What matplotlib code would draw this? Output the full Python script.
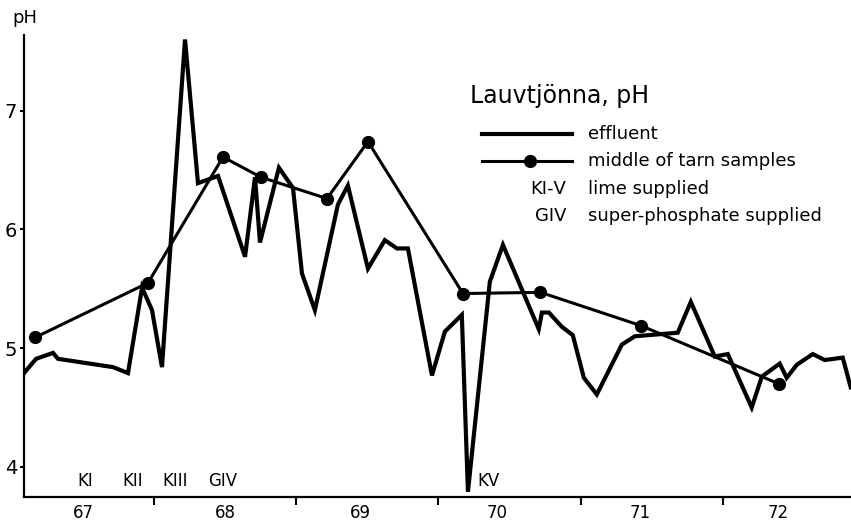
import matplotlib
matplotlib.use("Agg")
import matplotlib.pyplot as plt
from matplotlib.lines import Line2D

plt.rcParams["font.family"] = ["DejaVu Sans"]

# effluent pH (time in fractional years, 19xx)
effluent_t = [67.086, 67.171, 67.290, 67.325, 67.712, 67.817, 67.916, 67.986,
              68.056, 68.218, 68.309, 68.450, 68.640, 68.710, 68.745, 68.878,
              68.977, 69.040, 69.131, 69.293, 69.363, 69.504, 69.623, 69.708,
              69.785, 69.954, 70.045, 70.164, 70.207, 70.361, 70.453, 70.705,
              70.727, 70.776, 70.867, 70.944, 71.022, 71.113, 71.289, 71.380,
              71.682, 71.774, 71.942, 72.034, 72.202, 72.273, 72.399, 72.448,
              72.519, 72.631, 72.715, 72.842, 72.898]
effluent_ph = [4.79, 4.91, 4.96, 4.91, 4.84, 4.79, 5.51, 5.32,
               4.84, 7.60, 6.39, 6.45, 5.77, 6.44, 5.89, 6.52,
               6.35, 5.63, 5.32, 6.21, 6.37, 5.67, 5.91, 5.84,
               5.84, 4.77, 5.14, 5.28, 3.79, 5.56, 5.87, 5.16,
               5.30, 5.30, 5.18, 5.11, 4.75, 4.61, 5.03, 5.10,
               5.13, 5.39, 4.93, 4.95, 4.50, 4.76, 4.87, 4.75,
               4.86, 4.95, 4.90, 4.92, 4.67]

# middle of tarn samples
tarn_t = [67.164, 67.958, 68.485, 68.752, 69.216, 69.504, 70.172, 70.717, 71.422, 72.392]
tarn_ph = [5.09, 5.55, 6.61, 6.44, 6.26, 6.74, 5.46, 5.47, 5.19, 4.70]

# year labels sit in the middle of each year, ticks at the year boundaries
year_ticks = [68, 69, 70, 71, 72]
year_label_pos = [67.5, 68.5, 69.45, 70.41, 71.42, 72.39]
year_labels = ["67", "68", "69", "70", "71", "72"]
ph_ticks = [4, 5, 6, 7]

# lime / super-phosphate events
event_t = [67.52, 67.85, 68.15, 68.48, 70.35]
event_labels = ["KI", "KII", "KIII", "GIⅤ", "KⅤ"]

W, H = 851, 523
fig = plt.figure(figsize=(W / 100, H / 100), dpi=100)
ax = fig.add_axes([24 / W, 1 - 497 / H, 1 - 24 / W, (497 - 35) / H])

ax.plot(effluent_t, effluent_ph, color="black", lw=3.0, solid_joinstyle="miter")
ax.plot(tarn_t, tarn_ph, color="black", lw=2.2, marker="o", ms=8.5)

ax.set_xlim(67.086, 72.9)
ax.set_ylim(3.746, 7.638)

for s in ["top", "right"]:
    ax.spines[s].set_visible(False)
for s in ["left", "bottom"]:
    ax.spines[s].set_linewidth(1.6)

ax.set_xticks(year_ticks)
ax.set_xticklabels([])
ax.set_xticks(year_label_pos, minor=True)
ax.set_xticklabels(year_labels, minor=True)
ax.tick_params(axis="x", which="major", direction="out", length=6, width=1.5)
ax.tick_params(axis="x", which="minor", length=0, pad=5, labelsize=12)
ax.set_yticks(ph_ticks)
ax.set_yticklabels([str(v) for v in ph_ticks])
ax.tick_params(axis="y", direction="out", length=3, width=1.5, pad=2, labelsize=14)

for t, lab in zip(event_t, event_labels):
    ax.text(t, 3.88, lab, ha="center", va="center", fontsize=12)

fig.text(12 / W, 1 - 18 / H, "pH", ha="left", va="center", fontsize=13)

# legend block drawn by hand
fig.text(470 / W, 1 - 96 / H, "Lauvtjönna, pH", ha="left", va="center", fontsize=17)
fig.add_artist(Line2D([482 / W, 572 / W], [1 - 134 / H, 1 - 134 / H],
                      transform=fig.transFigure, color="black", lw=3.0))
fig.add_artist(Line2D([482 / W, 572 / W], [1 - 161 / H, 1 - 161 / H],
                      transform=fig.transFigure, color="black", lw=2.2))
fig.add_artist(Line2D([530 / W], [1 - 161 / H], transform=fig.transFigure,
                      color="black", marker="o", ms=8.5))
fig.text(588 / W, 1 - 134 / H, "effluent", ha="left", va="center", fontsize=13)
fig.text(588 / W, 1 - 161 / H, "middle of tarn samples", ha="left", va="center", fontsize=13)
fig.text(566 / W, 1 - 189 / H, "KI-Ⅴ", ha="right", va="center", fontsize=13)
fig.text(588 / W, 1 - 189 / H, "lime supplied", ha="left", va="center", fontsize=13)
fig.text(566 / W, 1 - 216 / H, "GIⅤ", ha="right", va="center", fontsize=13)
fig.text(588 / W, 1 - 216 / H, "super-phosphate supplied", ha="left", va="center", fontsize=13)

fig.savefig("out.png", dpi=100)
